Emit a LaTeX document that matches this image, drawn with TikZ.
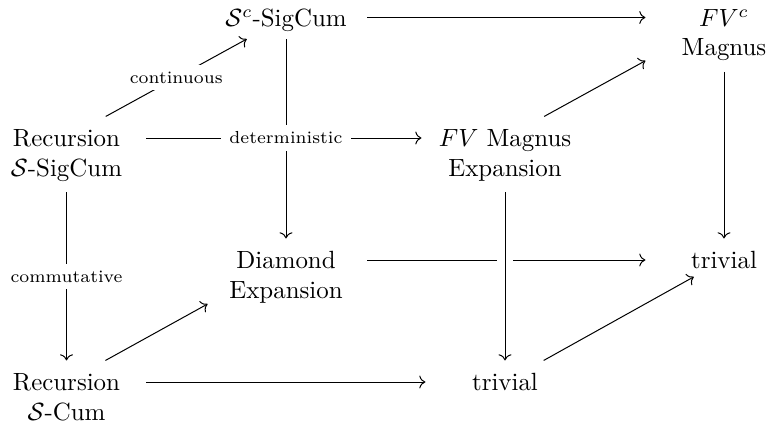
\documentclass[tikz,border=0pt]{standalone}
\usetikzlibrary{arrows.meta,calc}
\begin{document}
\begin{tikzpicture}[x=0.4016pt,y=-0.4016pt,
  cell/.style={inner xsep=0pt, inner ysep=5pt, text height=6.9pt, text depth=0pt},
  sub/.style={anchor=base, inner xsep=0pt, inner ysep=6.2pt, text height=6.9pt, text depth=0pt},
  cdarrow/.style={-{Computer Modern Rightarrow}, line width=0.4pt},
  lbl/.style={font=\scriptsize, fill=white, inner xsep=3.5pt, inner ysep=2.6pt, anchor=center}]
\useasboundingbox (0,0) rectangle (768,429);
% first lines
\node[cell, minimum width=63.5pt] (A) at (66.5,138) {Recursion};
\node[sub] (A2) at ([yshift=-12pt]A.base) {$\mathcal{S}$-SigCum};
\node[cell, minimum width=65pt] (B) at (286,17.5) {$\mathcal{S}^c$-SigCum};
\node[cell, minimum width=62.7pt, minimum height=40pt] (C) at (724,17.5) {$FV^c$};
\node[sub] (C2) at ([yshift=-12pt]C.base) {Magnus};
\node[cell, minimum width=66.7pt] (D) at (505,138) {$FV$ Magnus};
\node[sub] (D2) at ([yshift=-12pt]D.base) {Expansion};
\node[cell, minimum width=65pt] (E) at (286,260) {Diamond};
\node[sub] (E2) at ([yshift=-12pt]E.base) {Expansion};
\node[cell, minimum width=62.7pt] (F) at (724,260) {trivial};
\node[cell, minimum width=63.5pt] (G) at (66.5,382) {Recursion};
\node[sub] (G2) at ([yshift=-12pt]G.base) {$\mathcal{S}$-Cum};
\node[cell, minimum width=63.5pt] (H) at (505,382) {trivial};
\coordinate (Ein) at ($(E.west)+(3,44)$);
% connectors
\draw[cdarrow] (B) -- (E);
\draw[cdarrow] (A) -- node[lbl]{continuous} (B);
\draw[cdarrow] (A) -- node[lbl, pos=0.508]{deterministic} (D);
\draw[cdarrow] (A2) -- node[lbl]{commutative} (G);
\draw[cdarrow] (B) -- (C);
\draw[cdarrow] (D) -- (C);
\draw[cdarrow] (C2) -- (F);
\draw[cdarrow] (E) -- (F);
\draw[cdarrow, preaction={draw=white, line width=6.5pt, -}] (D2) -- (H);
\draw[cdarrow] (G) -- (Ein);
\draw[cdarrow] (G) -- (H);
\draw[cdarrow, shorten >=-3.9pt] (H) -- (F);
\end{tikzpicture}
\end{document}
